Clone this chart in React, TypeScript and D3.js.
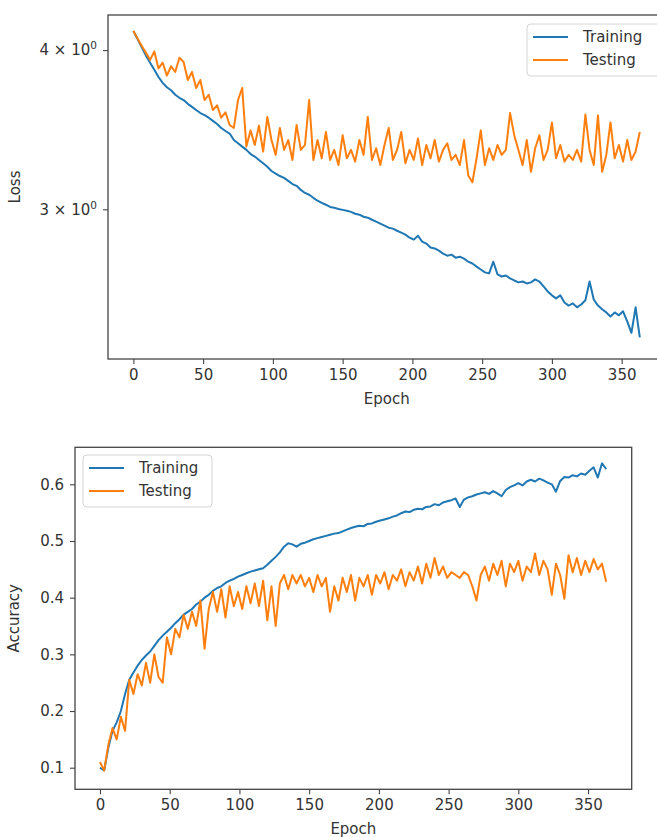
import React, { useEffect, useRef } from "react";
import * as d3 from "d3";

// values sampled every 3 epochs (0, 3, ..., 363)
const trainLoss = [
  4.14, 4.08, 4.02, 3.96, 3.91, 3.86, 3.81, 3.77, 3.74, 3.72, 3.69, 3.67, 3.655, 3.63, 3.61, 3.59,
  3.57, 3.557, 3.54, 3.52, 3.5, 3.475, 3.456, 3.44, 3.4, 3.38, 3.36, 3.34, 3.315, 3.3, 3.28, 3.26,
  3.24, 3.215, 3.2, 3.186, 3.175, 3.158, 3.14, 3.13, 3.107, 3.09, 3.08, 3.063, 3.047, 3.035, 3.025,
  3.013, 3.008, 3.002, 2.997, 2.992, 2.986, 2.976, 2.971, 2.96, 2.955, 2.944, 2.934, 2.923, 2.913,
  2.902, 2.897, 2.886, 2.876, 2.866, 2.85, 2.84, 2.86, 2.83, 2.82, 2.8, 2.795, 2.784, 2.769, 2.759,
  2.764, 2.749, 2.754, 2.744, 2.729, 2.72, 2.705, 2.691, 2.677, 2.672, 2.729, 2.667, 2.657, 2.662,
  2.648, 2.638, 2.629, 2.633, 2.624, 2.629, 2.643, 2.633, 2.61, 2.586, 2.568, 2.554, 2.568, 2.535,
  2.521, 2.531, 2.513, 2.526, 2.545, 2.633, 2.549, 2.521, 2.504, 2.49, 2.472, 2.49, 2.477, 2.495,
  2.45, 2.4, 2.513, 2.38,
];

const testLoss = [
  4.14, 4.085, 4.03, 3.98, 3.93, 3.99, 3.87, 3.91, 3.82, 3.885, 3.845, 3.945, 3.915, 3.79, 3.845,
  3.735, 3.79, 3.655, 3.69, 3.59, 3.62, 3.54, 3.575, 3.494, 3.475, 3.655, 3.735, 3.36, 3.46, 3.37,
  3.49, 3.33, 3.545, 3.4, 3.31, 3.475, 3.34, 3.4, 3.28, 3.494, 3.34, 3.37, 3.655, 3.28, 3.4, 3.29,
  3.45, 3.28, 3.34, 3.25, 3.43, 3.29, 3.34, 3.27, 3.4, 3.31, 3.545, 3.28, 3.35, 3.25, 3.37, 3.475,
  3.28, 3.34, 3.45, 3.26, 3.34, 3.28, 3.41, 3.25, 3.37, 3.29, 3.4, 3.27, 3.34, 3.38, 3.28, 3.31,
  3.25, 3.4, 3.19, 3.15, 3.29, 3.46, 3.25, 3.35, 3.28, 3.37, 3.31, 3.34, 3.57, 3.43, 3.34, 3.25,
  3.4, 3.21, 3.35, 3.43, 3.28, 3.34, 3.51, 3.29, 3.37, 3.27, 3.31, 3.28, 3.34, 3.27, 3.56, 3.34,
  3.25, 3.555, 3.21, 3.31, 3.51, 3.29, 3.37, 3.27, 3.4, 3.28, 3.33, 3.45,
];

const trainAcc = [
  0.1, 0.095, 0.135, 0.165, 0.18, 0.2, 0.23, 0.255, 0.268, 0.28, 0.29, 0.298, 0.305, 0.315, 0.325,
  0.333, 0.34, 0.347, 0.355, 0.362, 0.37, 0.375, 0.38, 0.388, 0.393, 0.4, 0.405, 0.412, 0.417, 0.42,
  0.426, 0.43, 0.433, 0.437, 0.44, 0.443, 0.446, 0.448, 0.45, 0.452, 0.458, 0.465, 0.472, 0.48,
  0.49, 0.496, 0.494, 0.49, 0.495, 0.497, 0.5, 0.503, 0.505, 0.507, 0.509, 0.511, 0.513, 0.514, 0.517,
  0.52, 0.523, 0.525, 0.527, 0.526, 0.53, 0.531, 0.534, 0.536, 0.538, 0.54, 0.543, 0.545, 0.549,
  0.552, 0.551, 0.555, 0.557, 0.556, 0.56, 0.561, 0.565, 0.563, 0.568, 0.57, 0.572, 0.575, 0.56,
  0.573, 0.577, 0.579, 0.582, 0.584, 0.586, 0.583, 0.588, 0.584, 0.579, 0.59, 0.595, 0.598, 0.602,
  0.598, 0.605, 0.608, 0.605, 0.61, 0.607, 0.603, 0.6, 0.587, 0.606, 0.613, 0.612, 0.616, 0.614,
  0.619, 0.617, 0.624, 0.63, 0.612, 0.637, 0.627,
];

const testAcc = [
  0.11, 0.095, 0.14, 0.17, 0.15, 0.19, 0.165, 0.255, 0.23, 0.265, 0.245, 0.285, 0.25, 0.3, 0.26,
  0.25, 0.33, 0.3, 0.345, 0.33, 0.37, 0.345, 0.375, 0.35, 0.395, 0.31, 0.38, 0.41, 0.375, 0.415,
  0.365, 0.42, 0.385, 0.41, 0.38, 0.42, 0.39, 0.425, 0.385, 0.43, 0.36, 0.42, 0.35, 0.425, 0.44,
  0.415, 0.44, 0.425, 0.44, 0.42, 0.435, 0.41, 0.44, 0.42, 0.435, 0.375, 0.42, 0.395, 0.435, 0.41,
  0.44, 0.395, 0.435, 0.42, 0.44, 0.405, 0.44, 0.425, 0.445, 0.415, 0.44, 0.43, 0.45, 0.42, 0.445,
  0.43, 0.455, 0.425, 0.46, 0.435, 0.47, 0.44, 0.455, 0.435, 0.445, 0.44, 0.435, 0.445, 0.44, 0.42,
  0.395, 0.44, 0.455, 0.43, 0.46, 0.44, 0.465, 0.42, 0.46, 0.445, 0.465, 0.43, 0.455, 0.445, 0.478,
  0.44, 0.465, 0.45, 0.405, 0.46, 0.44, 0.398, 0.475, 0.445, 0.47, 0.44, 0.465, 0.445, 0.468, 0.45,
  0.46, 0.428,
];

const epochStep = 3;
const xTicks = [0, 50, 100, 150, 200, 250, 300, 350];
const lossTicks = [3, 4];
const accTicks = [0.1, 0.2, 0.3, 0.4, 0.5, 0.6];
const seriesNames = ["Training", "Testing"];
const colors = ["#1f77b4", "#ff7f0e"];

const FONT = "DejaVu Sans, sans-serif";
const FS = 15;

function drawPanel(root, cfg) {
  const { left, top, right, bottom, xDomain, yScale, yTicks, yFormat, yLabel, series, legend } = cfg;
  const x = d3.scaleLinear().domain(xDomain).range([left, right]);
  const y = yScale.range([bottom, top]);
  const g = root.append("g");

  const line = d3
    .line()
    .x((d) => x(d[0]))
    .y((d) => y(d[1]));

  series.forEach((s, k) => {
    g.append("path")
      .datum(s.map((v, i) => [i * epochStep, v]))
      .attr("d", line)
      .attr("fill", "none")
      .attr("stroke", colors[k])
      .attr("stroke-width", 2)
      .attr("stroke-linejoin", "round");
  });

  // frame
  g.append("rect")
    .attr("x", left)
    .attr("y", top)
    .attr("width", right - left)
    .attr("height", bottom - top)
    .attr("fill", "none")
    .attr("stroke", "#444")
    .attr("stroke-width", 1.3);

  // x axis
  const xa = g.append("g").attr("transform", `translate(0,${bottom})`);
  xa.call(d3.axisBottom(x).tickValues(xTicks).tickSize(5).tickPadding(5).tickFormat(d3.format("d")));
  xa.select(".domain").remove();
  xa.selectAll("line").attr("stroke", "#444").attr("stroke-width", 1.1);
  xa.selectAll("text").attr("font-family", FONT).attr("font-size", FS).attr("fill", "#333");

  // y axis
  const ya = g.append("g").attr("transform", `translate(${left},0)`);
  ya.call(d3.axisLeft(y).tickValues(yTicks).tickSize(5).tickPadding(6).tickFormat(() => ""));
  ya.select(".domain").remove();
  ya.selectAll("line").attr("stroke", "#444").attr("stroke-width", 1.1);
  ya.selectAll(".tick text").each(function (d) {
    const t = d3.select(this).attr("font-family", FONT).attr("font-size", FS).attr("fill", "#333");
    yFormat(t, d);
  });

  // labels
  g.append("text")
    .attr("x", (left + right) / 2)
    .attr("y", bottom + 45)
    .attr("text-anchor", "middle")
    .attr("font-family", FONT)
    .attr("font-size", FS)
    .attr("fill", "#333")
    .text("Epoch");

  g.append("text")
    .attr("transform", `translate(${left - yLabel.offset},${(top + bottom) / 2}) rotate(-90)`)
    .attr("text-anchor", "middle")
    .attr("font-family", FONT)
    .attr("font-size", FS)
    .attr("fill", "#333")
    .text(yLabel.text);

  // legend
  const lg = g.append("g").attr("transform", `translate(${legend.x},${legend.y})`);
  lg.append("rect")
    .attr("width", legend.w)
    .attr("height", 52)
    .attr("rx", 4)
    .attr("fill", "white")
    .attr("fill-opacity", 0.8)
    .attr("stroke", "#d4d4d4");
  seriesNames.forEach((name, k) => {
    const cy = 13 + k * 23;
    lg.append("line")
      .attr("x1", 6)
      .attr("x2", 41)
      .attr("y1", cy)
      .attr("y2", cy)
      .attr("stroke", colors[k])
      .attr("stroke-width", 2);
    lg.append("text")
      .attr("x", 56)
      .attr("y", cy + 5)
      .attr("font-family", FONT)
      .attr("font-size", FS)
      .attr("fill", "#333")
      .text(name);
  });
}

const App = () => {
  const svgRef = useRef(null);

  useEffect(() => {
    const svg = d3.select(svgRef.current);
    svg.selectAll("*").remove();

    drawPanel(svg, {
      left: 108,
      top: 15,
      right: 665.6,
      bottom: 359,
      xDomain: [-18.2, 381.5],
      yScale: d3.scaleLog().domain([2.289, 4.262]),
      yTicks: lossTicks,
      yFormat: (t, d) => {
        t.text(`${d} \u00d7 10`);
        t.append("tspan").attr("dy", -6).attr("font-size", FS * 0.7).text("0");
      },
      yLabel: { text: "Loss", offset: 88 },
      series: [trainLoss, testLoss],
      legend: { x: 527, y: 24, w: 140 },
    });

    drawPanel(svg, {
      left: 75,
      top: 447.3,
      right: 631.7,
      bottom: 789.3,
      xDomain: [-17.9, 381.3],
      yScale: d3.scaleLinear().domain([0.0619, 0.6653]),
      yTicks: accTicks,
      yFormat: (t, d) => t.text(d3.format(".1f")(d)),
      yLabel: { text: "Accuracy", offset: 56 },
      series: [trainAcc, testAcc],
      legend: { x: 83, y: 455, w: 129 },
    });
  }, []);

  return (
    <svg
      ref={svgRef}
      width={657}
      height={837}
      style={{ position: "absolute", left: 0, top: 0, background: "white" }}
    ></svg>
  );
};

export default App;
